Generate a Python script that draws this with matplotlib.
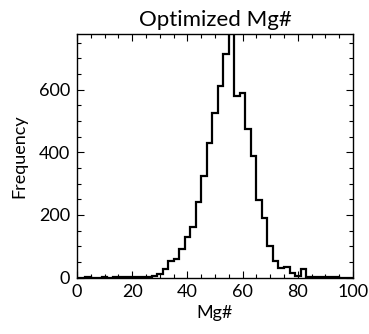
import matplotlib
matplotlib.use("Agg")
import matplotlib.pyplot as plt
import numpy as np
from matplotlib.ticker import MultipleLocator

bin_centers = list(range(0, 101, 2))
counts = [0, 0, 1, 0, 0, 1, 0, 1, 1, 1, 1, 2, 2, 3, 6, 11, 26, 54, 58, 90,
          130, 162, 242, 324, 428, 524, 611, 713, 790, 579, 588, 473, 388, 247, 189, 100,
          53, 29, 34, 13, 5, 27, 3, 2, 1, 2, 1, 1, 0, 0, 0]
title = "Optimized Mg#"
xlabel = "Mg#"
ylabel = "Frequency"

plt.rcParams['font.family'] = ['Lato', 'DejaVu Sans']

fig = plt.figure(figsize=(3.69, 3.34), dpi=100)
ax = fig.add_axes([0.2087, 0.169, 0.7479, 0.729])

edges = np.array(bin_centers + [bin_centers[-1] + 2], dtype=float) - 1
ax.stairs(counts, edges, color='black', linewidth=1.6, baseline=None)

ax.set_xlim(0, 100)
ax.set_ylim(0, 777)
ax.xaxis.set_major_locator(MultipleLocator(20))
ax.xaxis.set_minor_locator(MultipleLocator(5))
ax.yaxis.set_major_locator(MultipleLocator(200))
ax.yaxis.set_minor_locator(MultipleLocator(50))
ax.tick_params(which='both', direction='in', top=True, right=True, labelsize=13, width=0.8)
ax.tick_params(which='major', length=5, pad=5)
ax.tick_params(which='minor', length=3)
for s in ax.spines.values():
    s.set_linewidth(1.0)

ax.set_title(title, fontsize=16, pad=6)
ax.set_xlabel(xlabel, fontsize=13, labelpad=3)
ax.set_ylabel(ylabel, fontsize=13, labelpad=8)

fig.savefig("out.png", dpi=100)
